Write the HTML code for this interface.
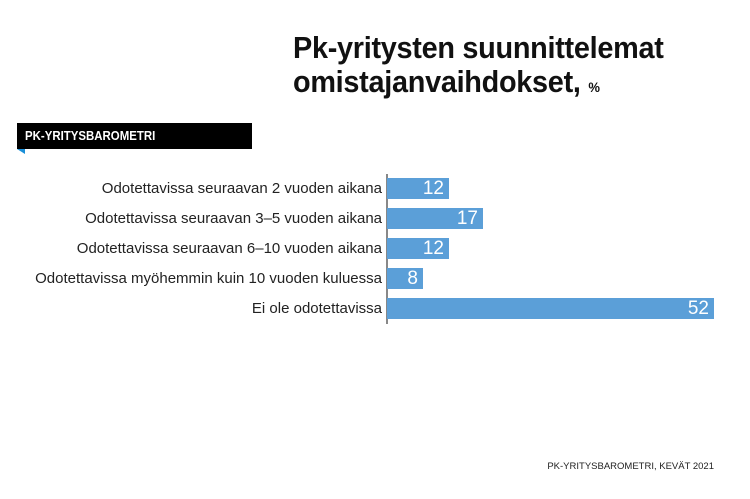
<!DOCTYPE html>
<html><head><meta charset="utf-8"><style>
body{margin:0;width:750px;height:499px;background:#fff;position:relative;overflow:hidden;font-family:"Liberation Sans",sans-serif}
.t{position:absolute;left:293px;font-weight:bold;font-size:31px;color:#111;white-space:nowrap;transform:scaleX(0.93);transform-origin:0 0;letter-spacing:-0.3px}
.lab{position:absolute;right:368px;font-size:15px;color:#222;white-space:nowrap}
.bar{position:absolute;left:387px;height:21px;background:#5b9fd8;color:#fff;font-size:19px;text-align:right;box-sizing:border-box;padding-right:5px;line-height:21px}
</style></head><body>
<div class="t" style="top:30px">Pk-yritysten suunnittelemat</div>
<div class="t" style="top:64px">omistajanvaihdokset, <span style="font-size:14px">%</span></div>
<div style="position:absolute;left:17px;top:123px;width:235px;height:26px;background:#000"></div>
<div style="position:absolute;left:25px;top:123px;color:#fff;font-weight:bold;font-size:13px;line-height:26px;transform:scaleX(0.88);transform-origin:0 0;white-space:nowrap">PK-YRITYSBAROMETRI</div>
<div style="position:absolute;left:17px;top:149px;width:0;height:0;border-top:5px solid #1a8fd8;border-left:8px solid transparent"></div>
<div style="position:absolute;left:386px;top:174px;width:1.5px;height:150px;background:#888"></div>
<div class="lab" style="top:180px">Odotettavissa seuraavan 2 vuoden aikana</div>
<div class="lab" style="top:210px">Odotettavissa seuraavan 3–5 vuoden aikana</div>
<div class="lab" style="top:240px">Odotettavissa seuraavan 6–10 vuoden aikana</div>
<div class="lab" style="top:270px">Odotettavissa myöhemmin kuin 10 vuoden kuluessa</div>
<div class="lab" style="top:300px">Ei ole odotettavissa</div>
<div class="bar" style="top:178px;width:62px">12</div>
<div class="bar" style="top:208px;width:96px">17</div>
<div class="bar" style="top:238px;width:62px">12</div>
<div class="bar" style="top:268px;width:36px">8</div>
<div class="bar" style="top:298px;width:327px">52</div>
<div style="position:absolute;right:36px;top:461px;font-size:9.5px;color:#222">PK-YRITYSBAROMETRI, KEVÄT 2021</div>
</body></html>
